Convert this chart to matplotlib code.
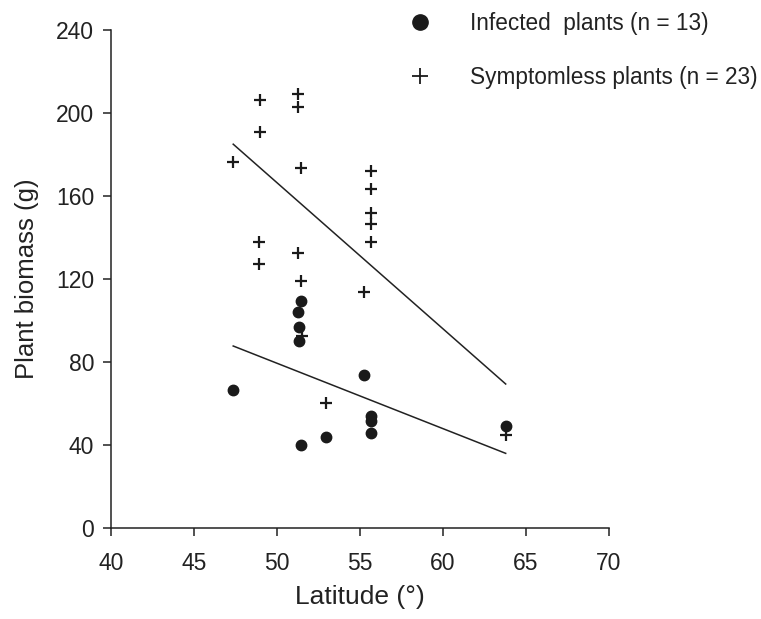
import matplotlib
matplotlib.use("Agg")
import matplotlib.pyplot as plt
from matplotlib.lines import Line2D

plt.rcParams['font.family'] = ['Liberation Sans', 'DejaVu Sans']

# Infected plants (filled circles)
inf_lat = [47.36, 51.46, 51.28, 51.32, 51.32, 51.46, 52.97, 55.24, 55.68, 55.68, 55.68, 63.79]
inf_bio = [66.8, 109.6, 104.0, 96.8, 90.4, 40.1, 44.0, 74.0, 54.2, 51.8, 45.8, 49.3]

# Symptomless plants (crosses)
sym_lat = [47.37, 48.99, 48.99, 51.30, 51.30, 51.46, 48.95, 51.28, 48.93, 51.46, 51.50,
           55.66, 55.66, 55.66, 55.66, 55.66, 55.28, 52.97, 63.82]
sym_bio = [176.3, 206.3, 190.9, 209.2, 203.1, 173.7, 138.1, 132.6, 127.2, 119.1, 92.6,
           172.3, 163.3, 151.7, 146.6, 137.8, 114.0, 60.2, 45.0]

# Regression lines (endpoints)
sym_fit_lat = [47.37, 63.8]
sym_fit_bio = [185.0, 69.5]
inf_fit_lat = [47.37, 63.8]
inf_fit_bio = [87.8, 36.1]

x_ticks = [40, 45, 50, 55, 60, 65, 70]
y_ticks = [0, 40, 80, 120, 160, 200, 240]

fig = plt.figure(figsize=(7.61, 6.19), dpi=100)
ax = fig.add_axes([111/761, 1 - 528.3/619, (608.5-111)/761, (528.3-30)/619])

ax.plot(sym_fit_lat, sym_fit_bio, color='#222222', lw=1.1)
ax.plot(inf_fit_lat, inf_fit_bio, color='#222222', lw=1.1)
ax.plot(sym_lat, sym_bio, linestyle='none', marker='+', ms=8, mew=1.6, color='#1a1a1a', clip_on=False)
ax.plot(inf_lat, inf_bio, linestyle='none', marker='o', ms=7.5, color='#1a1a1a', clip_on=False)

ax.set_xlim(40, 70)
ax.set_ylim(0, 240)
ax.set_xticks(x_ticks)
ax.set_yticks(y_ticks)
ax.spines['top'].set_visible(False)
ax.spines['right'].set_visible(False)
for s in ['left', 'bottom']:
    ax.spines[s].set_linewidth(1.1)
    ax.spines[s].set_color('#222222')
ax.tick_params(direction='out', length=6, width=1.1, color='#222222',
               labelsize=16.5, labelcolor='#222222')
ax.tick_params(axis='x', pad=11)
ax.tick_params(axis='y', pad=6)

ax.set_xlabel('Latitude (°)', fontsize=19, color='#222222', labelpad=7)
ax.set_ylabel('Plant biomass (g)', fontsize=18.5, color='#222222', labelpad=12)

handles = [
    Line2D([], [], linestyle='none', marker='o', ms=11, color='#1a1a1a'),
    Line2D([], [], linestyle='none', marker='+', ms=11, mew=1.3, color='#1a1a1a'),
]
labels = ['Infected  plants (n = 13)', 'Symptomless plants (n = 23)']
fig.legend(handles, labels, loc='upper left', bbox_to_anchor=(408.7/761, 1 - 11.8/619),
           frameon=False, fontsize=16.3, handlelength=1.0, handletextpad=1.71,
           labelspacing=1.36, borderpad=0, borderaxespad=0, labelcolor='#222222')

fig.savefig('out.png', dpi=100)
